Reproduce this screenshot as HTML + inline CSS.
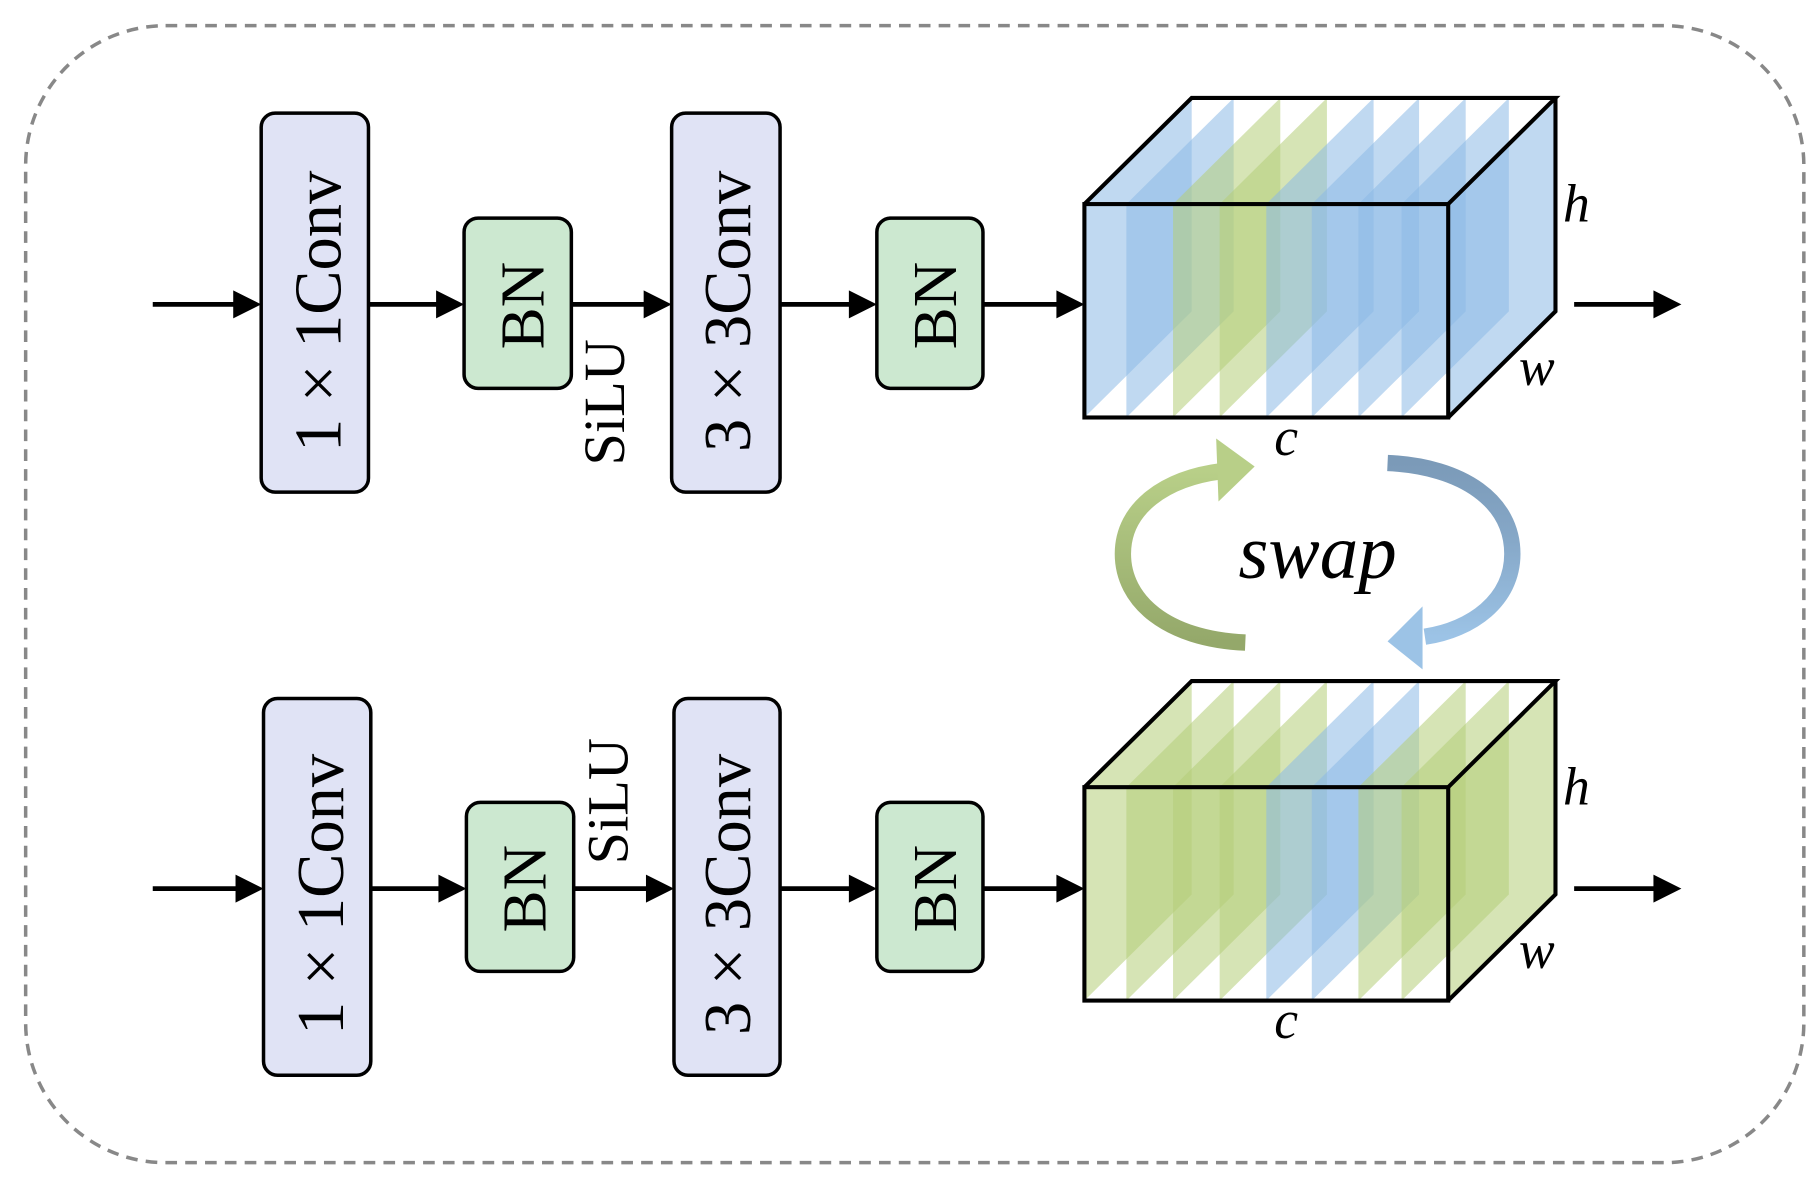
<!DOCTYPE html>
<html><head><meta charset="utf-8"><style>
html,body{margin:0;padding:0;background:#fff;}
svg{display:block;}
text{font-family:"Liberation Serif",serif;}
</style></head><body>
<svg width="1819" height="1179" viewBox="0 0 1560 1011" preserveAspectRatio="none" xmlns="http://www.w3.org/2000/svg">
<defs>
<linearGradient id="bg" x1="0" y1="0" x2="0" y2="1">
<stop offset="0" stop-color="#7b9ab8"/><stop offset="0.45" stop-color="#86a8c8"/><stop offset="1" stop-color="#9cc3e6"/>
</linearGradient>
<linearGradient id="gg" x1="0" y1="0" x2="0" y2="1">
<stop offset="0" stop-color="#b8cf88"/><stop offset="1" stop-color="#94a86a"/>
</linearGradient>
</defs>
<rect x="22" y="22" width="1525" height="975" rx="120" fill="none" stroke="#888" stroke-width="3" stroke-dasharray="10,7"/>

<g id="row1">
<g stroke="#000" stroke-width="4">
<line x1="131" y1="261" x2="205" y2="261"/><line x1="316" y1="261" x2="380" y2="261"/>
<line x1="490" y1="261" x2="558" y2="261"/><line x1="669" y1="261" x2="734" y2="261"/>
<line x1="843" y1="261" x2="912" y2="261"/><line x1="1350" y1="261" x2="1422" y2="261"/>
</g>
<g fill="#000">
<polygon points="224,261 200,249 200,273"/><polygon points="398,261 374,249 374,273"/>
<polygon points="576,261 552,249 552,273"/><polygon points="752,261 728,249 728,273"/>
<polygon points="930,261 906,249 906,273"/><polygon points="1442,261 1418,249 1418,273"/>
</g>
<rect x="224" y="97" width="92" height="325" rx="12" fill="#e0e3f5" stroke="#000" stroke-width="3"/>
<rect x="398" y="187" width="92" height="146" rx="12" fill="#cce8d0" stroke="#000" stroke-width="3"/>
<rect x="576" y="97" width="93" height="325" rx="12" fill="#e0e3f5" stroke="#000" stroke-width="3"/>
<rect x="752" y="187" width="91" height="146" rx="12" fill="#cce8d0" stroke="#000" stroke-width="3"/>
<text transform="translate(292,267) rotate(-90)" text-anchor="middle" font-size="57">1 × 1Conv</text>
<text transform="translate(466,262) rotate(-90)" text-anchor="middle" font-size="54">BN</text>
<text transform="translate(643,267) rotate(-90)" text-anchor="middle" font-size="57">3 × 3Conv</text>
<text transform="translate(820,262) rotate(-90)" text-anchor="middle" font-size="54">BN</text>
<text transform="translate(535,345) rotate(-90)" text-anchor="middle" font-size="50">SiLU</text>
</g>

<g id="row2">
<g stroke="#000" stroke-width="4">
<line x1="131" y1="762" x2="207" y2="762"/><line x1="318" y1="762" x2="382" y2="762"/>
<line x1="492" y1="762" x2="560" y2="762"/><line x1="669" y1="762" x2="734" y2="762"/>
<line x1="843" y1="762" x2="912" y2="762"/><line x1="1350" y1="762" x2="1422" y2="762"/>
</g>
<g fill="#000">
<polygon points="226,762 202,750 202,774"/><polygon points="400,762 376,750 376,774"/>
<polygon points="578,762 554,750 554,774"/><polygon points="752,762 728,750 728,774"/>
<polygon points="930,762 906,750 906,774"/><polygon points="1442,762 1418,750 1418,774"/>
</g>
<rect x="226" y="599" width="92" height="323" rx="12" fill="#e0e3f5" stroke="#000" stroke-width="3"/>
<rect x="400" y="688" width="92" height="145" rx="12" fill="#cce8d0" stroke="#000" stroke-width="3"/>
<rect x="578" y="599" width="91" height="323" rx="12" fill="#e0e3f5" stroke="#000" stroke-width="3"/>
<rect x="752" y="688" width="91" height="145" rx="12" fill="#cce8d0" stroke="#000" stroke-width="3"/>
<text transform="translate(294,767) rotate(-90)" text-anchor="middle" font-size="57">1 × 1Conv</text>
<text transform="translate(468,762) rotate(-90)" text-anchor="middle" font-size="54">BN</text>
<text transform="translate(643,767) rotate(-90)" text-anchor="middle" font-size="57">3 × 3Conv</text>
<text transform="translate(820,762) rotate(-90)" text-anchor="middle" font-size="54">BN</text>
<text transform="translate(538,687) rotate(-90)" text-anchor="middle" font-size="50">SiLU</text>
</g>

<g>
<polygon points="930,175 1022,84 1022,267 930,358" fill="rgba(140,185,230,0.55)"/>
<polygon points="966,175 1058,84 1058,267 966,358" fill="rgba(140,185,230,0.55)"/>
<polygon points="1006,175 1098,84 1098,267 1006,358" fill="rgba(180,205,120,0.55)"/>
<polygon points="1046,175 1138,84 1138,267 1046,358" fill="rgba(180,205,120,0.55)"/>
<polygon points="1086,175 1178,84 1178,267 1086,358" fill="rgba(140,185,230,0.55)"/>
<polygon points="1125,175 1217,84 1217,267 1125,358" fill="rgba(140,185,230,0.55)"/>
<polygon points="1165,175 1257,84 1257,267 1165,358" fill="rgba(140,185,230,0.55)"/>
<polygon points="1202,175 1294,84 1294,267 1202,358" fill="rgba(140,185,230,0.55)"/>
<polygon points="1242,175 1334,84 1334,267 1242,358" fill="rgba(140,185,230,0.55)"/>
<g fill="none" stroke="#000" stroke-width="3.5">
<rect x="930" y="175" width="312" height="183"/>
<polyline points="930,175 1022,84 1334,84 1242,175"/>
<polyline points="1334,84 1334,267 1242,358"/>
</g>
<text x="1352" y="190" font-size="46" font-style="italic" text-anchor="middle">h</text>
<text x="1318" y="330" font-size="46" font-style="italic" text-anchor="middle">w</text>
<text x="1103" y="390" font-size="46" font-style="italic" text-anchor="middle">c</text>
</g>

<g>
<polygon points="930,675 1022,584 1022,767 930,858" fill="rgba(180,205,120,0.55)"/>
<polygon points="966,675 1058,584 1058,767 966,858" fill="rgba(180,205,120,0.55)"/>
<polygon points="1006,675 1098,584 1098,767 1006,858" fill="rgba(180,205,120,0.55)"/>
<polygon points="1046,675 1138,584 1138,767 1046,858" fill="rgba(180,205,120,0.55)"/>
<polygon points="1086,675 1178,584 1178,767 1086,858" fill="rgba(140,185,230,0.55)"/>
<polygon points="1125,675 1217,584 1217,767 1125,858" fill="rgba(140,185,230,0.55)"/>
<polygon points="1165,675 1257,584 1257,767 1165,858" fill="rgba(180,205,120,0.55)"/>
<polygon points="1202,675 1294,584 1294,767 1202,858" fill="rgba(180,205,120,0.55)"/>
<polygon points="1242,675 1334,584 1334,767 1242,858" fill="rgba(180,205,120,0.55)"/>
<g fill="none" stroke="#000" stroke-width="3.5">
<rect x="930" y="675" width="312" height="183"/>
<polyline points="930,675 1022,584 1334,584 1242,675"/>
<polyline points="1334,584 1334,767 1242,858"/>
</g>
<text x="1352" y="690" font-size="46" font-style="italic" text-anchor="middle">h</text>
<text x="1318" y="830" font-size="46" font-style="italic" text-anchor="middle">w</text>
<text x="1103" y="890" font-size="46" font-style="italic" text-anchor="middle">c</text>
</g>

<path d="M1068,551 C1000,548 963,515 963,475 C963,435 1000,410 1048,404" fill="none" stroke="url(#gg)" stroke-width="14"/>
<polygon points="1076,400 1043,376 1045,430" fill="#b8cf88"/>
<path d="M1190,397 C1255,400 1297,430 1297,475 C1297,515 1262,540 1222,546" fill="none" stroke="url(#bg)" stroke-width="14"/>
<polygon points="1190,550 1220,520 1220,574" fill="#9cc3e6"/>
<text x="1130" y="495" font-size="66" font-style="italic" text-anchor="middle">swap</text>
</svg>
</body></html>
